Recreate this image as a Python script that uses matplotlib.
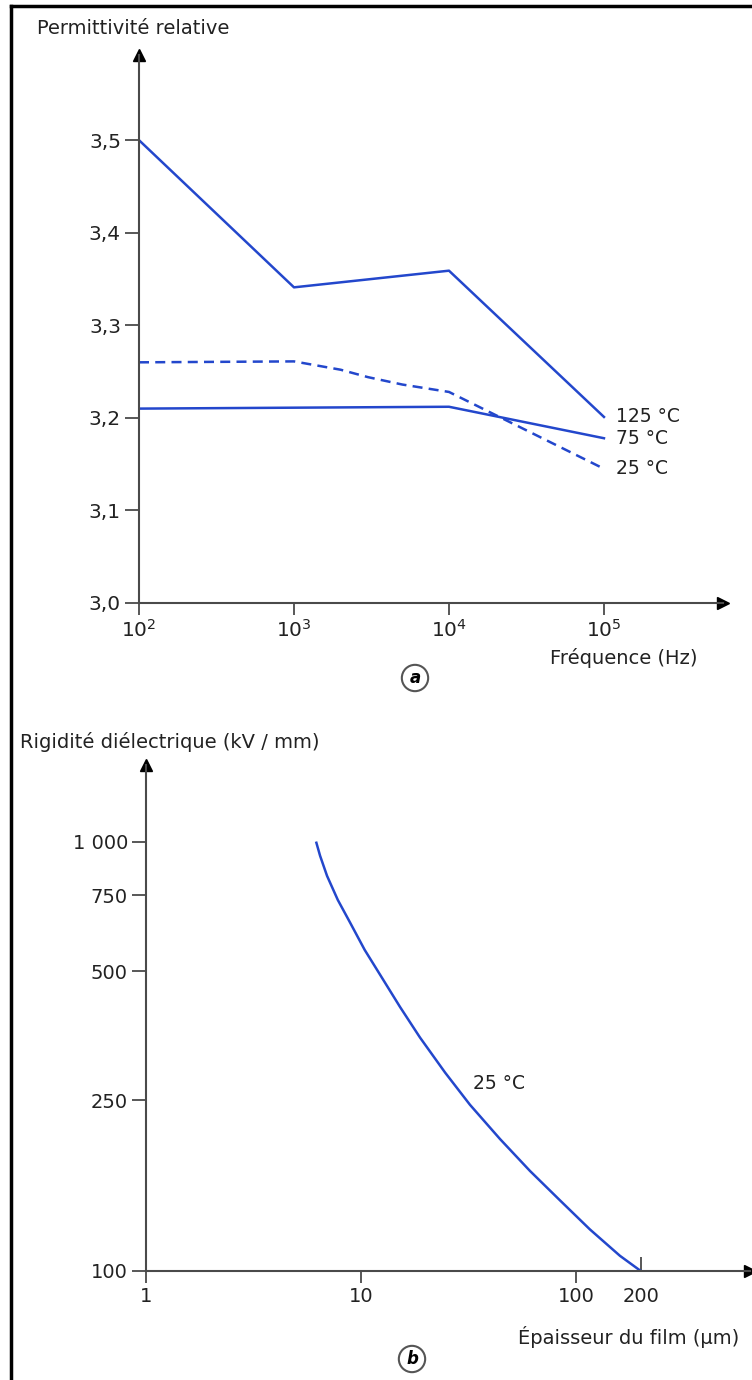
import numpy as np
import matplotlib
matplotlib.use("Agg")
import matplotlib.pyplot as plt
from matplotlib.lines import Line2D
from matplotlib.ticker import FixedLocator, FixedFormatter, NullLocator

plt.rcParams['font.family'] = ['DejaVu Sans']

# --- data, panel (a): relative permittivity vs frequency ---
freq_125 = [1e2, 1e3, 1e4, 1e5]
perm_125 = [3.50, 3.341, 3.359, 3.201]
freq_75 = [1e2, 1e3, 1e4, 1e5]
perm_75 = [3.210, 3.211, 3.212, 3.178]
freq_25 = [1e2, 1e3, 2e3, 3e3, 5e3, 1e4, 1e5]
perm_25 = [3.260, 3.261, 3.252, 3.244, 3.236, 3.228, 3.145]
series_a = [
    ("125 °C", freq_125, perm_125, '-'),
    ("75 °C", freq_75, perm_75, '-'),
    ("25 °C", freq_25, perm_25, (0, (4, 2.5))),
]
yticks_a = [3.0, 3.1, 3.2, 3.3, 3.4, 3.5]
yticklabels_a = ["3,0", "3,1", "3,2", "3,3", "3,4", "3,5"]
xticks_a = [1e2, 1e3, 1e4, 1e5]
xticklabels_a = [r"$\mathregular{10^2}$", r"$\mathregular{10^3}$",
                 r"$\mathregular{10^4}$", r"$\mathregular{10^5}$"]

# --- data, panel (b): dielectric strength vs film thickness (25 °C) ---
thickness = [6.2, 6.45, 6.95, 7.8, 8.9, 10.4, 12.3, 15.2, 18.8, 24.6, 32.1,
             44.3, 61.1, 84.3, 116.0, 160.0, 200.0]
rigidity = [995, 928, 833, 732, 648, 560, 489, 412, 350, 290, 244,
            203, 171, 146, 125, 108.5, 100]
yticks_b = [100, 250, 500, 750, 1000]
yticklabels_b = ["100", "250", "500", "750", "1 000"]
xticks_b = [1, 10, 100]
xticklabels_b = ["1", "10", "100"]

blue = '#2347cc'
axis_col = '#4a4a4a'
W, H = 752, 1380

fig = plt.figure(figsize=(W / 100, H / 100), dpi=100)

def frac(x0, y0, x1, y1):
    return [x0 / W, 1 - y1 / H, (x1 - x0) / W, (y1 - y0) / H]

def style_axes(ax):
    for s in ['top', 'right']:
        ax.spines[s].set_visible(False)
    for s in ['left', 'bottom']:
        ax.spines[s].set_color(axis_col)
        ax.spines[s].set_linewidth(1.5)
    ax.plot(1, 0, '>', color='black', ms=9, transform=ax.transAxes, clip_on=False)
    ax.plot(0, 1, '^', color='black', ms=9, transform=ax.transAxes, clip_on=False)
    ax.set_facecolor('none')

# ---------------- panel (a) ----------------
ax1 = fig.add_axes(frac(139, 55, 723, 603))
ax1.set_xscale('log')
ax1.set_xlim(1e2, 10 ** 5.768)
ax1.set_ylim(3.0, 3.592)
style_axes(ax1)
for label, fx, py, ls in series_a:
    ax1.plot(fx, py, color=blue, lw=1.8, ls=ls, solid_joinstyle='round')
    ax1.annotate(label, (fx[-1], py[-1]), xytext=(9, 0), textcoords='offset points',
                 va='center', ha='left', fontsize=13.5, color='#222222')
ax1.set_yticks(yticks_a)
ax1.set_yticklabels(yticklabels_a)
ax1.set_xticks(xticks_a)
ax1.set_xticklabels(xticklabels_a)
ax1.xaxis.set_minor_locator(NullLocator())
ax1.tick_params(axis='y', direction='out', length=10, width=1.3, color=axis_col,
                pad=3, labelsize=14.5, labelcolor='#222222')
ax1.tick_params(axis='x', direction='out', length=8.5, width=1.3, color=axis_col,
                pad=3, labelsize=14.5, labelcolor='#222222')
ax1.text(0.9555, -0.100, "Fréquence (Hz)", transform=ax1.transAxes, ha='right',
         va='center', fontsize=14, color='#222222')

fig.text(37 / W, 1 - 28 / H, "Permittivité relative", ha='left', va='center',
         fontsize=14, color='#222222')
fig.text(415 / W, 1 - 678 / H, "a", ha='center', va='center', fontsize=12,
         fontweight='bold', fontstyle='italic',
         bbox=dict(boxstyle='circle,pad=0.25', fc='white', ec='#555555', lw=1.5))

# ---------------- panel (b) ----------------
ax2 = fig.add_axes(frac(146, 765, 750, 1271))
ax2.set_xscale('log')
ax2.set_yscale('log')
ax2.set_xlim(1, 10 ** 2.809)
ax2.set_ylim(100, 10 ** 3.179)
style_axes(ax2)
ax2.plot(thickness, rigidity, color=blue, lw=1.8, solid_joinstyle='round')
ax2.text(0.541, 0.3715, "25 °C", transform=ax2.transAxes, ha='left', va='center',
         fontsize=13.5, color='#222222')
ax2.yaxis.set_major_locator(FixedLocator(yticks_b))
ax2.yaxis.set_major_formatter(FixedFormatter(yticklabels_b))
ax2.yaxis.set_minor_locator(NullLocator())
ax2.xaxis.set_major_locator(FixedLocator(xticks_b))
ax2.xaxis.set_major_formatter(FixedFormatter(xticklabels_b))
# 200 um limit: tick drawn inward, as in the original
ax2.xaxis.set_minor_locator(FixedLocator([200]))
ax2.xaxis.set_minor_formatter(FixedFormatter(["200"]))
ax2.tick_params(axis='y', which='major', direction='out', length=10, width=1.3,
                color=axis_col, pad=3, labelsize=14, labelcolor='#222222')
ax2.tick_params(axis='x', which='major', direction='out', length=8.5, width=1.3,
                color=axis_col, pad=3, labelsize=14, labelcolor='#222222')
ax2.tick_params(axis='x', which='minor', direction='in', length=10, width=1.3,
                color=axis_col, pad=11.5, labelsize=14, labelcolor='#222222')
ax2.text(0.983, -0.130, "Épaisseur du film (µm)", transform=ax2.transAxes,
         ha='right', va='center', fontsize=14, color='#222222')

fig.text(20 / W, 1 - 742 / H, "Rigidité diélectrique (kV / mm)", ha='left',
         va='center', fontsize=14, color='#222222')
fig.text(412 / W, 1 - 1359 / H, "b", ha='center', va='center', fontsize=12,
         fontweight='bold', fontstyle='italic',
         bbox=dict(boxstyle='circle,pad=0.25', fc='white', ec='#555555', lw=1.5))

# page frame (left and top edges only)
fig.add_artist(Line2D([11 / W, 11 / W], [0, 1 - 6 / H], color='black', lw=2.5))
fig.add_artist(Line2D([11 / W, 1], [1 - 6 / H, 1 - 6 / H], color='black', lw=2.5))

fig.savefig('out.png', dpi=100)
